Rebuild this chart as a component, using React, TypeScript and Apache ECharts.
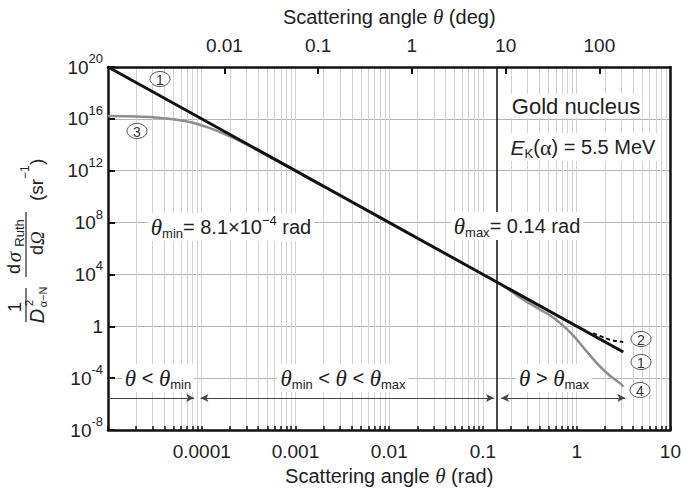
import React, { useEffect, useRef } from 'react';
import * as echarts from 'echarts';

// ---------- tick values / labels ----------
const radTickValues = [1e-4, 1e-3, 1e-2, 0.1, 1, 10];
const radTickLabels = ['0.0001', '0.001', '0.01', '0.1', '1', '10'];
const degTickValues = [0.01, 0.1, 1, 10, 100];
const degTickLabels = ['0.01', '0.1', '1', '10', '100'];
const yTickExponents = [-8, -4, 0, 4, 8, 12, 16, 20];

// ---------- curves ----------
// (1) small-angle Rutherford, straight line on log-log
const curve1X = [1e-5, 3.14];
const curve1Y = [1e20, 0.0103];
// (2) exact Rutherford near backscattering (dashed)
const curve2X = [1.5, 2.0, 2.5, 3.14];
const curve2Y = [0.29, 0.125, 0.077, 0.0625];
// (3) screened curve at small angles (grey)
const curve3X = [1e-5, 2e-5, 3e-5, 5e-5, 7e-5, 8.8e-5, 1.2e-4, 1.5e-4, 2e-4, 3e-4, 5e-4, 1e-3, 2e-3];
const curve3Y = [1.63e16, 1.51e16, 1.34e16, 9.5e15, 6.3e15, 4.2e15, 2.0e15, 1.09e15, 4.4e14, 1.05e14, 1.5e13, 9.85e11, 6.2e10];
// (4) nuclear-size curve at large angles (grey)
const curve4X = [0.1, 0.14, 0.2, 0.257, 0.386, 0.58, 0.869, 1.31, 1.97, 2.95, 3.14];
const curve4Y = [1e4, 2600, 500, 140, 24, 4.0, 0.3, 0.0093, 3.7e-4, 3.6e-5, 2.2e-5];

// vertical limits and region arrows
const thetaMinLine = 8.8e-5;
const thetaMaxLine = 0.14;
const arrowY = 3.0e-6;
const arrowLeft = [1e-5, 8.3e-5];
const arrowMid = [9.7e-5, 0.131];
const arrowRight = [0.156, 3.3];

const FONT = '"Liberation Sans", Arial, Helvetica, sans-serif';
const SERIF = '"Liberation Serif", "Times New Roman", serif';
const INK = '#222';

const pairs = (xs: number[], ys: number[]) => xs.map((x, i) => [x, ys[i]]);

const xGridTicks: number[] = [];
for (let e = -5; e <= 0; e++) {
  for (let m = 1; m <= 9; m++) xGridTicks.push(parseFloat((m * Math.pow(10, e)).toPrecision(6)));
}
xGridTicks.push(10);

const findLabel = (vals: number[], labels: string[], v: number) => {
  const i = vals.findIndex((t) => Math.abs(Math.log10(t) - Math.log10(v)) < 1e-6);
  return i >= 0 ? labels[i] : '';
};

const annRich = {
  a: { fontSize: 20, fontFamily: FONT, color: INK, lineHeight: 26 },
  t: { fontSize: 23, fontFamily: SERIF, fontStyle: 'italic', color: INK, lineHeight: 26 },
  sub: { fontSize: 13, fontFamily: FONT, color: INK, lineHeight: 16, verticalAlign: 'bottom' },
  sup: { fontSize: 13, fontFamily: FONT, color: INK, lineHeight: 14, verticalAlign: 'top' },
  g: { fontSize: 22, fontFamily: SERIF, color: INK, lineHeight: 26 },
  e: { fontSize: 21, fontFamily: FONT, fontStyle: 'italic', color: INK, lineHeight: 26 },
};

const annText = (x: number, y: number, text: string, bg = true) => ({
  type: 'text',
  x,
  y,
  z: 100,
  style: {
    text,
    rich: annRich,
    align: 'center',
    verticalAlign: 'middle',
    fill: INK,
    backgroundColor: bg ? '#fff' : undefined,
    padding: bg ? [1, 3] : 0,
  },
});

const circled = (cx: number, cy: number, label: string) => [
  {
    type: 'ellipse',
    z: 110,
    shape: { cx, cy, rx: 10, ry: 7.5 },
    style: { fill: '#fff', stroke: '#555', lineWidth: 1 },
  },
  {
    type: 'text',
    z: 111,
    x: cx,
    y: cy + 0.5,
    style: { text: label, fontSize: 14, fontFamily: FONT, fill: '#333', align: 'center', verticalAlign: 'middle' },
  },
];

const t = (x: number, y: number, text: string, size: number, opts: any = {}) => ({
  type: 'text',
  x,
  y,
  style: {
    text,
    fontSize: size,
    fontFamily: opts.family || FONT,
    fontStyle: opts.italic ? 'italic' : 'normal',
    fill: INK,
    align: opts.align || 'center',
    verticalAlign: 'middle',
  },
});

const yTitle = {
  type: 'group',
  x: 0,
  y: 327,
  rotation: Math.PI / 2,
  z: 100,
  children: [
    t(20, 15, '1', 18),
    { type: 'line', shape: { x1: 5, y1: 26, x2: 39, y2: 26 }, style: { stroke: INK, lineWidth: 1.2 } },
    t(11, 37, 'D', 20, { italic: true }),
    t(24, 29, '2', 11),
    t(30, 43, 'α−N', 11),
    t(58, 14, 'd', 18),
    t(70, 14, 'σ', 21, { italic: true, family: SERIF }),
    t(94, 19, 'Ruth', 13),
    { type: 'line', shape: { x1: 50, y1: 26, x2: 115, y2: 26 }, style: { stroke: INK, lineWidth: 1.2 } },
    t(77, 37, 'd', 18),
    t(89, 37, 'Ω', 19, { italic: true, family: SERIF }),
    t(126, 36, '(sr', 19, { align: 'left' }),
    t(148, 25, '−1', 12, { align: 'left' }),
    t(162, 36, ')', 19, { align: 'left' }),
  ],
};

export default function App() {
  const ref = useRef<HTMLDivElement>(null);

  useEffect(() => {
    if (!ref.current) return;
    const chart = echarts.init(ref.current, null, { renderer: 'svg' });
    const lineBase = { type: 'line', symbol: 'none', showSymbol: false, xAxisIndex: 0, yAxisIndex: 0, silent: true };

    chart.setOption({
      animation: false,
      grid: { left: 108, right: 11, top: 67, bottom: 63, containLabel: false },
      xAxis: [
        {
          type: 'log',
          logBase: 10,
          position: 'bottom',
          min: 1e-5,
          max: 10,
          name: '{a|Scattering angle }{t|θ}{a| (rad)}',
          nameLocation: 'middle',
          nameGap: 34,
          nameTextStyle: {
            rich: {
              a: { fontSize: 20, fontFamily: FONT, color: INK },
              t: { fontSize: 21, fontFamily: SERIF, fontStyle: 'italic', color: INK },
            },
          },
          axisLine: { show: true, onZero: false, lineStyle: { color: '#111', width: 2.5 } },
          axisTick: { show: true, inside: true, length: 4, customValues: xGridTicks, lineStyle: { color: '#111', width: 1.5 } },
          minorTick: { show: false },
          axisLabel: {
            customValues: radTickValues,
            margin: 12,
            fontSize: 19,
            fontFamily: FONT,
            color: INK,
            formatter: (v: number) => findLabel(radTickValues, radTickLabels, v),
          },
          splitLine: { show: true, lineStyle: { color: '#d2d2d2', width: 1 } },
        },
        {
          type: 'log',
          logBase: 10,
          position: 'top',
          min: (1e-5 * 180) / Math.PI,
          max: (10 * 180) / Math.PI,
          name: '{a|Scattering angle }{t|θ}{a| (deg)}',
          nameLocation: 'middle',
          nameGap: 40,
          nameTextStyle: {
            rich: {
              a: { fontSize: 20, fontFamily: FONT, color: INK },
              t: { fontSize: 21, fontFamily: SERIF, fontStyle: 'italic', color: INK },
            },
          },
          axisLine: { show: true, onZero: false, lineStyle: { color: '#111', width: 2.5 } },
          axisTick: { show: true, inside: true, length: 7, customValues: degTickValues, lineStyle: { color: '#111', width: 2 } },
          axisLabel: {
            customValues: degTickValues,
            margin: 12,
            fontSize: 19,
            fontFamily: FONT,
            color: INK,
            formatter: (v: number) => findLabel(degTickValues, degTickLabels, v),
          },
          splitLine: { show: false },
        },
      ],
      yAxis: [
        {
          type: 'log',
          logBase: 10,
          position: 'left',
          min: 1e-8,
          max: 1e20,
          interval: 4,
          axisLine: { show: true, onZero: false, lineStyle: { color: '#111', width: 2.5 } },
          axisTick: {
            show: true,
            inside: true,
            length: 7,
            customValues: yTickExponents.map((e) => Math.pow(10, e)),
            lineStyle: { color: '#111', width: 2 },
          },
          axisLabel: {
            customValues: yTickExponents.map((e) => Math.pow(10, e)),
            margin: 5,
            formatter: (v: number) => {
              const e = Math.round(Math.log10(v));
              return e === 0 ? '{b|1}' : `{b|10}{s|${e}}`;
            },
            rich: {
              b: { fontSize: 19, fontFamily: FONT, color: INK, lineHeight: 30 },
              s: { fontSize: 13, fontFamily: FONT, color: INK, lineHeight: 14, verticalAlign: 'top' },
            },
          },
          splitLine: { show: true, lineStyle: { color: '#b4b4b4', width: 1 } },
        },
        {
          type: 'value',
          position: 'right',
          min: 0,
          max: 1,
          axisLine: { show: true, onZero: false, lineStyle: { color: '#111', width: 2.5 } },
          axisTick: { show: false },
          axisLabel: { show: false },
          splitLine: { show: false },
        },
      ],
      series: [
        {
          ...lineBase,
          name: 'curve3',
          data: pairs(curve3X, curve3Y),
          smooth: 0.3,
          lineStyle: { color: '#8e8e8e', width: 2.5 },
          z: 2,
        },
        {
          ...lineBase,
          name: 'curve4',
          data: pairs(curve4X, curve4Y),
          smooth: 0.5,
          lineStyle: { color: '#8e8e8e', width: 2.5 },
          z: 2,
        },
        {
          ...lineBase,
          name: 'curve2',
          data: pairs(curve2X, curve2Y),
          smooth: 0.3,
          lineStyle: { color: '#111', width: 2, type: [4, 3] },
          z: 3,
          markLine: {
            silent: true,
            animation: false,
            label: { show: false },
            symbolSize: [6, 8],
            lineStyle: { color: '#444', width: 1, type: 'solid' },
            data: [
              [
                { coord: [arrowLeft[0], arrowY], symbol: 'none' },
                { coord: [arrowLeft[1], arrowY], symbol: 'arrow' },
              ],
              [
                { coord: [arrowMid[0], arrowY], symbol: 'arrow' },
                { coord: [arrowMid[1], arrowY], symbol: 'arrow' },
              ],
              [
                { coord: [arrowRight[0], arrowY], symbol: 'arrow' },
                { coord: [arrowRight[1], arrowY], symbol: 'arrow' },
              ],
            ],
          },
        },
        {
          ...lineBase,
          name: 'curve1',
          data: pairs(curve1X, curve1Y),
          lineStyle: { color: '#111', width: 3 },
          z: 4,
          markLine: {
            silent: true,
            animation: false,
            symbol: ['none', 'none'],
            label: { show: false },
            data: [
              { xAxis: thetaMinLine, lineStyle: { color: '#111', width: 2.2, type: 'solid' } },
              { xAxis: thetaMaxLine, lineStyle: { color: '#111', width: 1.5, type: 'solid' } },
            ],
          },
        },
      ],
      graphic: [
        yTitle,
        annText(231, 227, '{t|θ}{sub|min}{a|= 8.1×10}{sup|−4}{a| rad}'),
        annText(517, 226, '{t|θ}{sub|max}{a|= 0.14 rad}'),
        {
          type: 'text',
          x: 576,
          y: 106,
          z: 100,
          style: {
            text: 'Gold nucleus',
            fontSize: 22,
            fontFamily: FONT,
            fill: INK,
            align: 'center',
            verticalAlign: 'middle',
            backgroundColor: '#fff',
            padding: [1, 2],
          },
        },
        annText(583, 147, '{e|E}{sub|K}{a|(}{g|α}{a|) = 5.5 MeV}'),
        annText(158, 378, '{t|θ}{a| < }{t|θ}{sub|min}'),
        annText(343, 378, '{t|θ}{sub|min}{a| < }{t|θ}{a| < }{t|θ}{sub|max}'),
        annText(554, 378, '{t|θ}{a| > }{t|θ}{sub|max}'),
        ...circled(160, 79, '1'),
        ...circled(137, 131, '3'),
        ...circled(641, 339, '2'),
        ...circled(641, 362, '1'),
        ...circled(640, 390, '4'),
      ],
    });

    return () => chart.dispose();
  }, []);

  return <div ref={ref} style={{ position: 'absolute', left: 0, top: 0, width: 684, height: 493 }} />;
}
